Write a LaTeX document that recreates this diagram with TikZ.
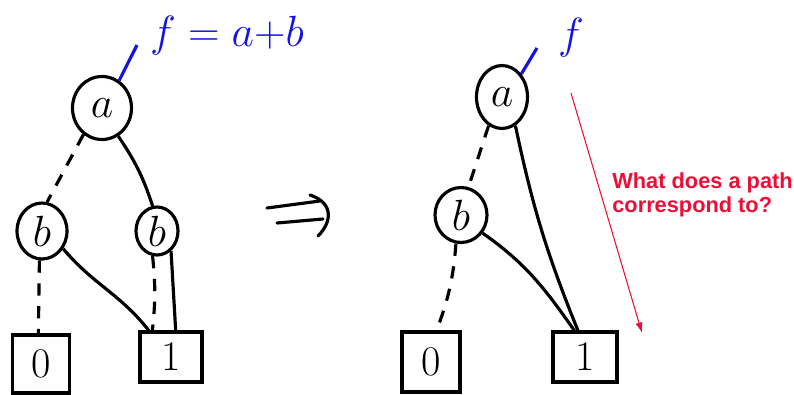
\documentclass[tikz,border=0pt]{standalone}
\usepackage{fontspec}
\usepackage{tikz}
\usetikzlibrary{
    shapes.geometric,
    arrows.meta
}
\newfontfamily\qfont{Liberation Sans}
\definecolor{fblue}{RGB}{20, 20, 225}
\definecolor{qred}{RGB}{235, 15, 55}

\begin{document}
\begin{tikzpicture}[
    x=0.02cm, y=-0.02cm,
    var/.style={ellipse, draw, line width=1.8pt, inner sep=0pt, font=\fontsize{24}{26}\selectfont},
    leaf/.style={rectangle, draw, line width=1.8pt, inner sep=0pt, font=\fontsize{24}{26}\selectfont},
    hi/.style={line width=1.8pt},
    lo/.style={line width=1.8pt, dash pattern=on 7pt off 6pt},
    fline/.style={fblue, line width=1.8pt},
    ask/.style={-{Latex[length=6pt, width=4pt]}, qred, line width=0.6pt}
]
\useasboundingbox (0,0) rectangle (794,395);

% ============================================
% LEFT: decision diagram of f = a+b
% ============================================
\node[var, minimum width=1.18cm, minimum height=1.26cm] (aL) at (102,108) {$a$};
\node[var, minimum width=1.0cm, minimum height=1.12cm] (bL1) at (42,231) {$b$};
\node[var, minimum width=0.84cm, minimum height=0.96cm] (bL2) at (157,231) {$b$};
\node[leaf, minimum width=1.14cm, minimum height=1.16cm] (zeroL) at (41,364) {0};
\node[leaf, minimum width=1.24cm, minimum height=1.0cm] (oneL) at (171,357) {1};

\node[fblue, anchor=west, font=\fontsize{24}{26}\selectfont] (fL) at (144,36) {$f = a{+}b$};
\coordinate (fLtip) at (137,45);
\draw[fline] (aL.58) -- (fLtip);

\draw[lo] (aL.235) -- (bL1.80);
\draw[hi] (aL.-60) to[bend left=8] (bL2.100);
\draw[lo] (bL1.-95) -- (zeroL.95);
\draw[hi] (bL1.-40) to[out=-50, in=128] (oneL.130);
\draw[lo] (bL2.-100) to[bend left=6] (oneL.125);
\draw[hi] (bL2.-55) -- (oneL.80);

% ============================================
% IMPLIES
% ============================================
\draw[hi, line cap=round] (267,208) -- (320,201);
\draw[hi, line cap=round] (277,223) -- (323,219);
\draw[hi, line cap=round] (310,195) .. controls (334,203) and (332,222) .. (318,236);

% ============================================
% RIGHT: reduced diagram
% ============================================
\node[var, minimum width=1.02cm, minimum height=1.26cm] (aR) at (502,97) {$a$};
\node[var, minimum width=1.04cm, minimum height=1.1cm] (bR) at (461,215) {$b$};
\node[leaf, minimum width=1.16cm, minimum height=1.2cm] (zeroR) at (431,362) {0};
\node[leaf, minimum width=1.28cm, minimum height=1.0cm] (oneR) at (585,357) {1};

\node[fblue, anchor=west, font=\fontsize{24}{26}\selectfont] (fR) at (552,38) {$f$};
\coordinate (fRtip) at (537,48);
\draw[fline] (aR.50) -- (fRtip);

\draw[lo] (aR.245) -- (bR.75);
\draw[hi] (aR.-65) to[out=-78, in=112] (oneR.105);
\draw[lo] (bR.-100) to[bend left=8] (zeroR.80);
\draw[hi] (bR.-40) to[out=-35, in=125] (oneR.112);

% question
\coordinate (qs) at (571,93);
\coordinate (qe) at (642,333);
\draw[ask] (qs) -- (qe);
\node[qred, anchor=north west, inner sep=0pt, align=left,
      font=\qfont\bfseries\fontsize{12.4}{14}\selectfont] (qtxt) at (612,172)
      {What does a path\\correspond to?};

\end{tikzpicture}
\end{document}
